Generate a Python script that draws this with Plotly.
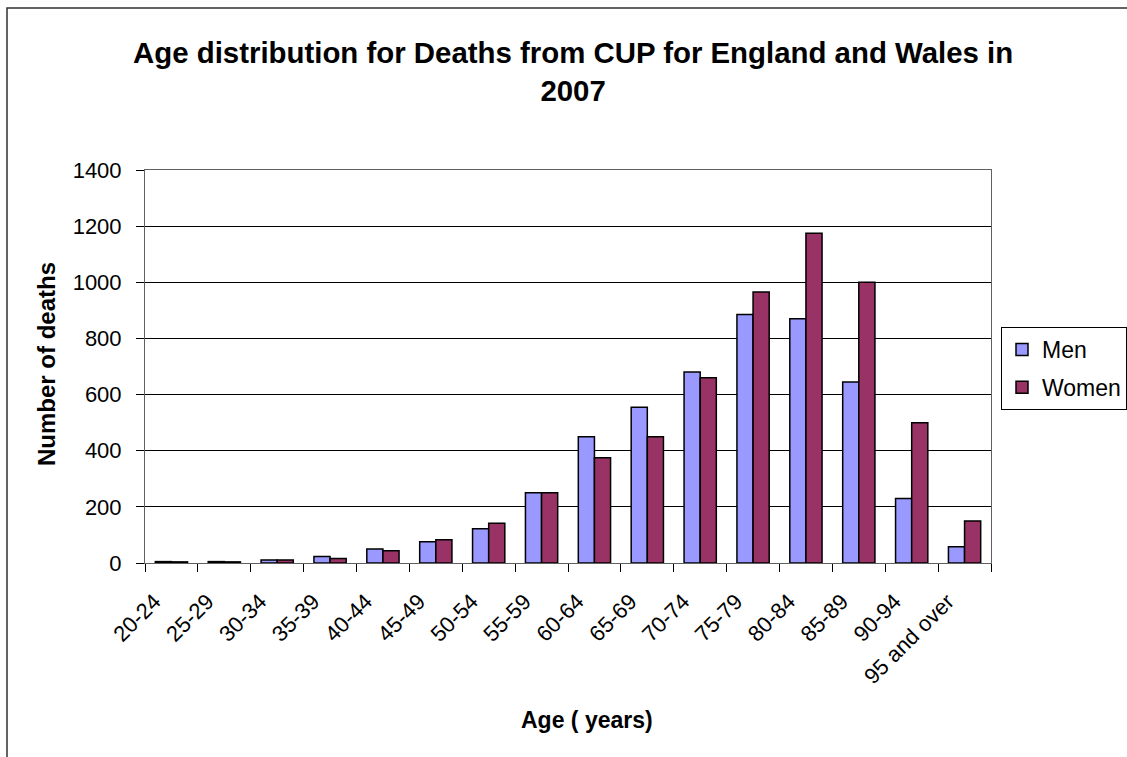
import plotly.graph_objects as go

# Deaths from cancer of unknown primary (CUP), England and Wales, 2007
age_groups = ["20-24", "25-29", "30-34", "35-39", "40-44", "45-49", "50-54", "55-59",
              "60-64", "65-69", "70-74", "75-79", "80-84", "85-89", "90-94", "95 and over"]
men = [5, 5, 11, 23, 50, 76, 122, 250, 450, 555, 680, 885, 870, 645, 230, 58]
women = [4, 4, 11, 16, 44, 83, 142, 250, 375, 450, 660, 965, 1175, 1000, 500, 150]

FONT = "Liberation Sans, Arial, sans-serif"
W, H = 1127, 757
L, R, T, B = 145, 991, 170, 563  # plot area in pixels


def px_x(px):
    return (px - L) / (R - L)


def px_y(py):
    return (B - py) / (B - T)


fig = go.Figure()
fig.add_trace(go.Bar(
    name="Men", x=age_groups, y=men, legendgroup="men",
    marker=dict(color="#9999FF", line=dict(color="#000000", width=1.5)),
))
fig.add_trace(go.Bar(
    name="Women", x=age_groups, y=women, legendgroup="women",
    marker=dict(color="#993366", line=dict(color="#000000", width=1.5)),
))

fig.update_layout(
    width=W, height=H,
    margin=dict(l=L, r=W - R, t=T, b=H - B, autoexpand=False),
    paper_bgcolor="white", plot_bgcolor="white",
    font=dict(family=FONT, size=22, color="black"),
    barmode="group", bargap=0.39, bargroupgap=0,
    showlegend=True,
    legend=dict(
        x=px_x(1001), y=px_y(327), xanchor="left", yanchor="top",
        bordercolor="#000000", borderwidth=1, bgcolor="white",
        font=dict(size=23, family=FONT), tracegroupgap=5,
        traceorder="grouped",
    ),
    xaxis=dict(
        showline=True, linecolor="#606060", linewidth=1, mirror=True,
        ticks="outside", ticklen=8, tickcolor="#000000", tickson="boundaries",
        tickangle=-45, tickfont=dict(size=22), showgrid=False,
        ticklabelstandoff=16, ticklabelshift=-17,
    ),
    yaxis=dict(
        range=[0, 1400], dtick=200, showline=True, linecolor="#606060",
        linewidth=1, mirror=True, ticks="outside", ticklen=8,
        tickcolor="#000000", showgrid=True, gridcolor="#000000", gridwidth=1,
        tickfont=dict(size=22), ticklabelstandoff=10, zeroline=False,
    ),
    annotations=[
        dict(text="<b>Age distribution for Deaths from CUP for England and Wales in<br>2007</b>",
             x=px_x(573), y=px_y(71.5), xref="paper", yref="paper",
             xanchor="center", yanchor="middle", showarrow=False,
             font=dict(size=29.4, family=FONT)),
        dict(text="<b>Number of deaths</b>", textangle=-90,
             x=px_x(46), y=px_y(364), xref="paper", yref="paper",
             xanchor="center", yanchor="middle", showarrow=False,
             font=dict(size=24, family=FONT)),
        dict(text="<b>Age ( years)</b>",
             x=px_x(587), y=px_y(720), xref="paper", yref="paper",
             xanchor="center", yanchor="middle", showarrow=False,
             font=dict(size=23, family=FONT)),
    ],
    shapes=[
        dict(type="rect", xref="paper", yref="paper",
             x0=px_x(7), x1=px_x(1200), y0=px_y(800), y1=px_y(8),
             line=dict(color="#303030", width=1.5), layer="below"),
    ],
)

fig.write_html("out.html")
